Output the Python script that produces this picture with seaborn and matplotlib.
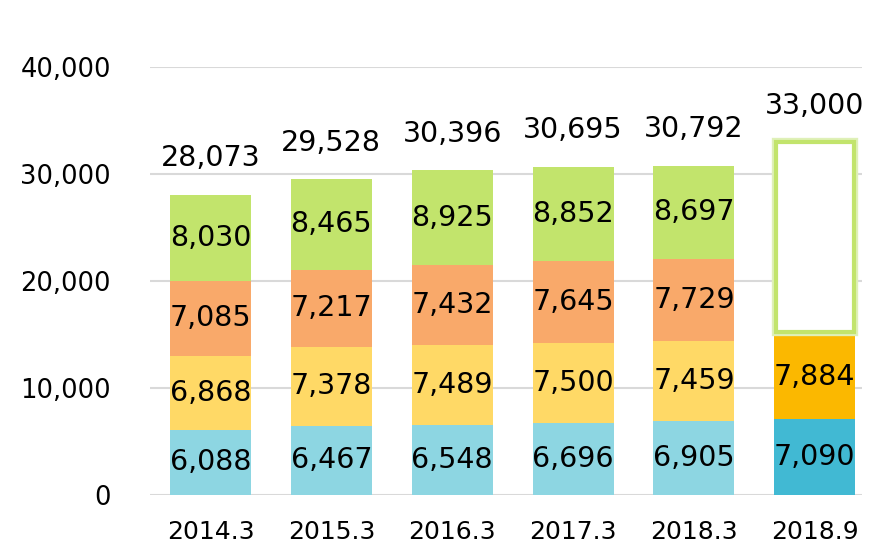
import numpy as np
import pandas as pd
import matplotlib
matplotlib.use("Agg")
import matplotlib.pyplot as plt
import seaborn as sns

periods = ["2014.3", "2015.3", "2016.3", "2017.3", "2018.3", "2018.9"]
seg_blue = [6088, 6467, 6548, 6696, 6905, 7090]
seg_yellow = [6868, 7378, 7489, 7500, 7459, 7884]
seg_orange = [7085, 7217, 7432, 7645, 7729, np.nan]
seg_green = [8030, 8465, 8925, 8852, 8697, np.nan]
totals = [28073, 29528, 30396, 30695, 30792, 33000]
forecast_total = 33000

blue_cols = ["#8dd6e2"] * 5 + ["#41b9d3"]
yellow_cols = ["#ffd966"] * 5 + ["#fbb800"]
orange_cols = ["#f9a96a"] * 6
green_cols = ["#c2e46c"] * 6

sns.set_theme(style="white")
plt.rcParams["font.family"] = ["DejaVu Sans"]

fig = plt.figure(figsize=(8.85, 5.48), dpi=100)
ax = fig.add_axes([0.1695, 0.0967, 0.8045, 0.781])

df = pd.DataFrame({"period": periods, "blue": seg_blue, "yellow": seg_yellow,
                   "orange": seg_orange, "green": seg_green})
df["c1"] = df["blue"]
df["c2"] = df["c1"] + df["yellow"]
df["c3"] = df["c2"] + df["orange"]
df["c4"] = df["c3"] + df["green"]

# draw cumulative layers from tallest down so the shorter ones sit on top
for col, cols in [("c4", green_cols), ("c3", orange_cols), ("c2", yellow_cols), ("c1", blue_cols)]:
    sns.barplot(data=df, x="period", y=col, hue="period", palette=cols, legend=False,
                width=0.67, saturation=1, ax=ax, linewidth=0, zorder=2)

# forecast box for the last period (white with a soft green glow)
last = len(periods) - 1
base = df["c2"].iloc[last]
gap = 250
ax.bar(last, forecast_total - base - gap, bottom=base + gap, width=0.64, facecolor="white",
       edgecolor="#dff0b8", linewidth=6, zorder=2)
ax.bar(last, forecast_total - base - gap, bottom=base + gap, width=0.64, facecolor="white",
       edgecolor="#c2e46c", linewidth=3, zorder=3)

# segment labels
for i in range(len(periods)):
    bottom = 0
    for seg in [seg_blue, seg_yellow, seg_orange, seg_green]:
        v = seg[i]
        if np.isnan(v):
            continue
        ax.text(i, bottom + v / 2, f"{int(v):,}", ha="center", va="center",
                fontsize=20.5, color="black", zorder=5)
        bottom += v
    ax.annotate(f"{totals[i]:,}", (i, totals[i]), xytext=(0, 16), textcoords="offset points",
                ha="center", va="bottom", fontsize=20.5, color="black", annotation_clip=False)

ax.set_ylim(0, 40000)
ax.set_xlim(-0.5, 5.39)
ax.set_yticks([0, 10000, 20000, 30000, 40000])
ax.set_yticklabels([f"{v:,}" for v in [0, 10000, 20000, 30000, 40000]])
ax.yaxis.grid(True, color="#d9d9d9", linewidth=1.5, zorder=0)
ax.set_axisbelow(True)
for s in ax.spines.values():
    s.set_visible(False)
ax.tick_params(axis="y", labelsize=18.5, pad=28, length=0, colors="black")
ax.tick_params(axis="x", labelsize=18, pad=18, length=0, colors="black")
ax.set_xlabel("")
ax.set_ylabel("")

fig.savefig("out.png", dpi=100)
